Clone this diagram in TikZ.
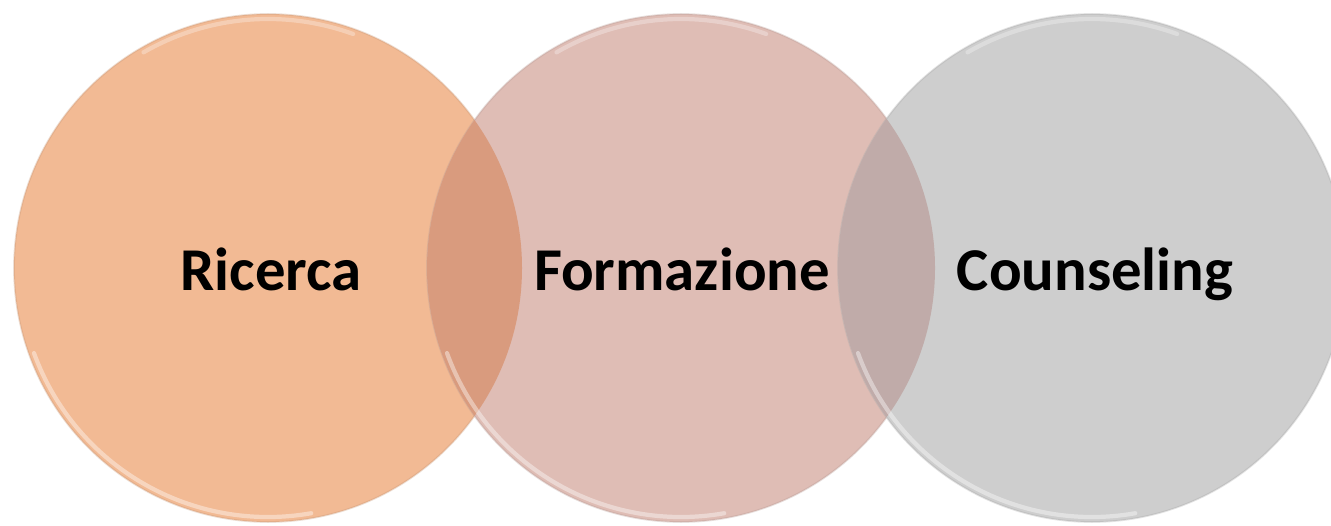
\documentclass[tikz,border=0pt]{standalone}
\usepackage{fontspec}
\setmainfont{Carlito}
\definecolor{ricercacol}{HTML}{F2BA94}
\definecolor{formazionecol}{HTML}{DFBDB5}
\definecolor{counselingcol}{HTML}{CECECE}
\definecolor{lensrf}{HTML}{D99B7E}
\definecolor{lensfc}{HTML}{C0ABA9}
\begin{document}
\begin{tikzpicture}[bubble/.style={circle,minimum size=5.08cm,inner sep=0pt,fill=#1,draw=#1!80!black,draw opacity=.3,line width=.5pt},
    areatext/.style={anchor=base,font=\bfseries\fontsize{17.3}{20}\selectfont},
    rim/.style={white,opacity=.4,line width=1.2pt,line cap=round}]
        \useasboundingbox (0,0) rectangle (13.31,5.25);
        \node[bubble=ricercacol] (ricerca) at (2.68,2.57) {};
        \node[bubble=formazionecol] (formazione) at (6.81,2.57) {};
        \node[bubble=counselingcol] (counseling) at (10.92,2.57) {};
        % overlaps
        \begin{scope}
            \clip (ricerca.center) circle (2.54);
            \fill[lensrf] (formazione.center) circle (2.54);
        \end{scope}
        \begin{scope}
            \clip (formazione.center) circle (2.54);
            \fill[lensfc] (counseling.center) circle (2.54);
        \end{scope}
        % glossy rims
        \foreach \c in {ricerca,formazione,counseling}{
            \draw[rim] ([shift={(200:2.49)}]\c.center) arc (200:280:2.49);
            \draw[rim,opacity=.3] ([shift={(70:2.49)}]\c.center) arc (70:120:2.49);
        }
        \node[areatext] (ricercatxt) at (2.71,2.35) {Ricerca};
        \node[areatext] (formazionetxt) at (6.82,2.35) {Formazione};
        \node[areatext] (counselingtxt) at (10.95,2.35) {Counseling};
    \end{tikzpicture}
\end{document}
